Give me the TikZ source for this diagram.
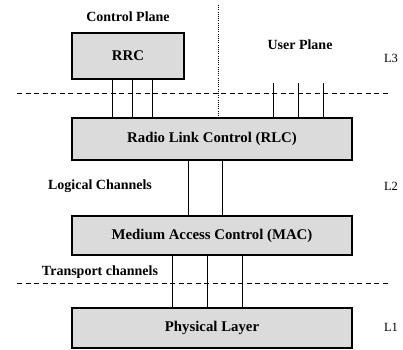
\documentclass[tikz,border=0pt]{standalone}
\usepackage{fontspec}
\setmainfont{Liberation Serif}
\usepackage{tikz}
\usetikzlibrary{positioning}
\tikzset{
    x=1pt, y=-1pt, % one unit is one pixel of the scan, y runs down
    layer/.style={draw, line width=1.2pt, fill=gray!28, inner sep=0pt, font=\bfseries\fontsize{14.8}{17}\selectfont}, % protocol layer boxes
    lbl/.style={font=\bfseries\fontsize{14}{16}\selectfont}, % plain labels
    lvl/.style={font=\fontsize{12.5}{15}\selectfont}, % L1, L2, L3
    chan/.style={line width=0.9pt}, % channels between layers
    sep/.style={line width=0.8pt, dash pattern=on 5pt off 3.5pt}, % layer borders
    plane/.style={line width=0.9pt, dash pattern=on 1pt off 1.2pt}, % control / user split
}

\begin{document}
\begin{tikzpicture}
        \useasboundingbox (0,0) rectangle (403,349);

        \node[layer, minimum width=112pt, minimum height=46pt] (rrc) at (128,56) {RRC};
        \node[layer, minimum width=280pt, minimum height=42pt] (rlc) at (212,139) {Radio Link Control (RLC)};
        \node[layer, minimum width=280pt, minimum height=39pt] (mac) at (212,235.5) {Medium Access Control (MAC)};
        \node[layer, minimum width=280pt, minimum height=40pt] (phy) at (212,328) {Physical Layer};

        \node[lbl] (cp) at (128,17) {Control Plane};
        \node[lbl] (up) at (300,45) {User Plane};
        \node[lbl] (lc) at (100,186) {Logical Channels};
        \node[lbl] (tc) at (100,272) {Transport channels};
        \node[lvl] (l3) at (391,58) {L3};
        \node[lvl] (l2) at (391,186) {L2};
        \node[lvl] (l1) at (391,327) {L1};

        % layer borders
        \coordinate (s3w) at (17,93);
        \coordinate (s3e) at (390,93);
        \coordinate (s1w) at (17,283);
        \coordinate (s1e) at (390,283);
        \draw[sep] (s3w) -- (s3e);
        \draw[sep] (s1w) -- (s1e);

        % control plane | user plane
        \coordinate (split) at (218,5);
        \draw[plane] (split) -- (split |- rlc.north);

        % channels
        \coordinate (utop) at (0,83);
        \foreach \x in {112,132,152}
            \draw[chan] (\x,0 |- rrc.south) -- (\x,0 |- rlc.north);
        \foreach \x in {273,298,323}
            \draw[chan] (\x,0 |- utop) -- (\x,0 |- rlc.north);
        \foreach \x in {188,222}
            \draw[chan] (\x,0 |- rlc.south) -- (\x,0 |- mac.north);
        \foreach \x in {172,207,242}
            \draw[chan] (\x,0 |- mac.south) -- (\x,0 |- phy.north);
\end{tikzpicture}
\end{document}
